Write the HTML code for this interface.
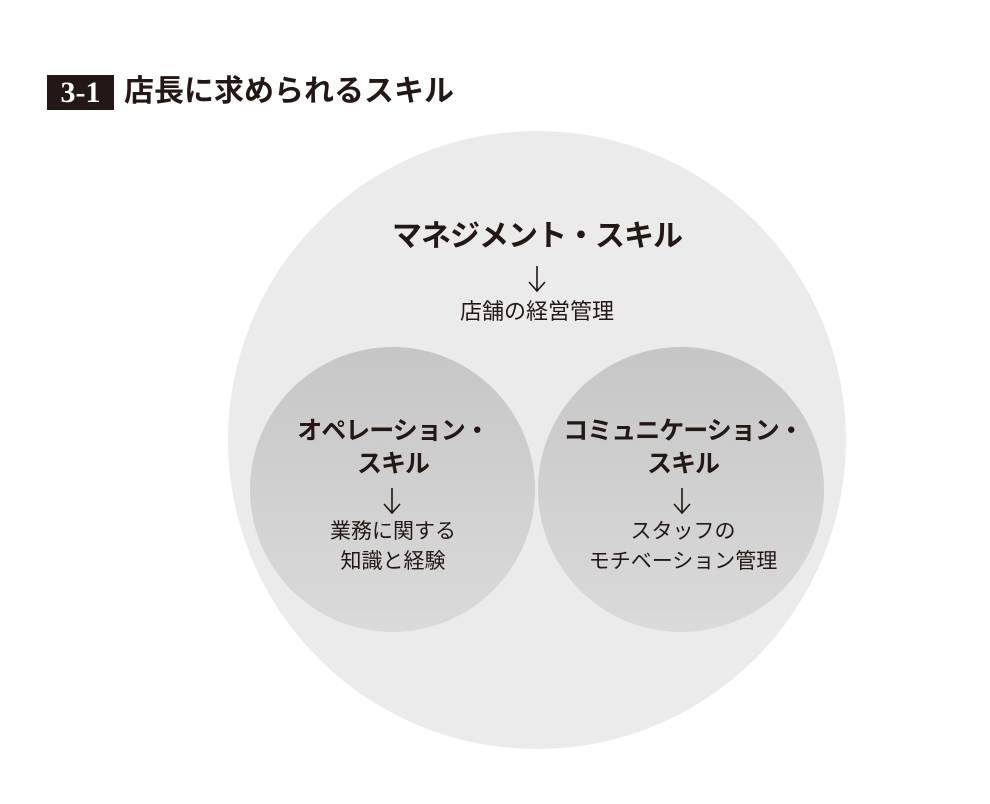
<!DOCTYPE html>
<html><head><meta charset="utf-8"><style>
body{margin:0;width:990px;height:804px;background:#fff;position:relative;overflow:hidden;font-family:"Liberation Sans","Noto Sans CJK JP",sans-serif;color:#231815}
.a{position:absolute;white-space:nowrap;text-align:center;transform:translateX(-50%)}
.c{position:absolute;border-radius:50%}
.b{font-weight:bold}
svg{position:absolute}
</style></head><body>
<div style="position:absolute;left:47px;top:75px;width:67px;height:35px;background:#231815;color:#fff;font-size:30px;font-weight:bold;line-height:35px;text-align:center;font-family:'Liberation Serif','Noto Serif CJK SC',serif">3-1</div>
<div style="position:absolute;left:124px;top:72px;font-size:30px;font-weight:bold;line-height:40px;letter-spacing:0px">店長に求められるスキル</div>
<div class="c" style="left:228px;top:131px;width:618px;height:618px;background:#ebebeb"></div>
<div class="c" style="left:250px;top:347px;width:285px;height:285px;background:linear-gradient(#c6c6c6,#dadada)"></div>
<div class="c" style="left:538px;top:347px;width:286px;height:285px;background:linear-gradient(#c6c6c6,#dadada)"></div>
<div class="a b" style="left:537px;top:217px;font-size:30px;line-height:40px;letter-spacing:-1px">マネジメント・スキル</div>
<svg style="left:527px;top:265px" width="20" height="28"><path d="M10 1V26M2 17L10 26L18 17" fill="none" stroke="#231815" stroke-width="1.6"/></svg>
<div class="a" style="left:537px;top:297px;font-size:22px;line-height:30px">店舗の経営管理</div>
<div class="a b" style="left:393px;top:415px;font-size:25px;line-height:33px;letter-spacing:-1px">オペレーション・<br>スキル</div>
<svg style="left:382px;top:487px" width="20" height="28"><path d="M10 1V26M2 17L10 26L18 17" fill="none" stroke="#231815" stroke-width="1.6"/></svg>
<div class="a" style="left:393px;top:517px;font-size:21px;line-height:30px">業務に関する<br>知識と経験</div>
<div class="a b" style="left:683px;top:415px;font-size:25px;line-height:33px;letter-spacing:-1px">コミュニケーション・<br>スキル</div>
<svg style="left:672px;top:487px" width="20" height="28"><path d="M10 1V26M2 17L10 26L18 17" fill="none" stroke="#231815" stroke-width="1.6"/></svg>
<div class="a" style="left:683px;top:517px;font-size:21px;line-height:30px">スタッフの<br>モチベーション管理</div>
</body></html>
